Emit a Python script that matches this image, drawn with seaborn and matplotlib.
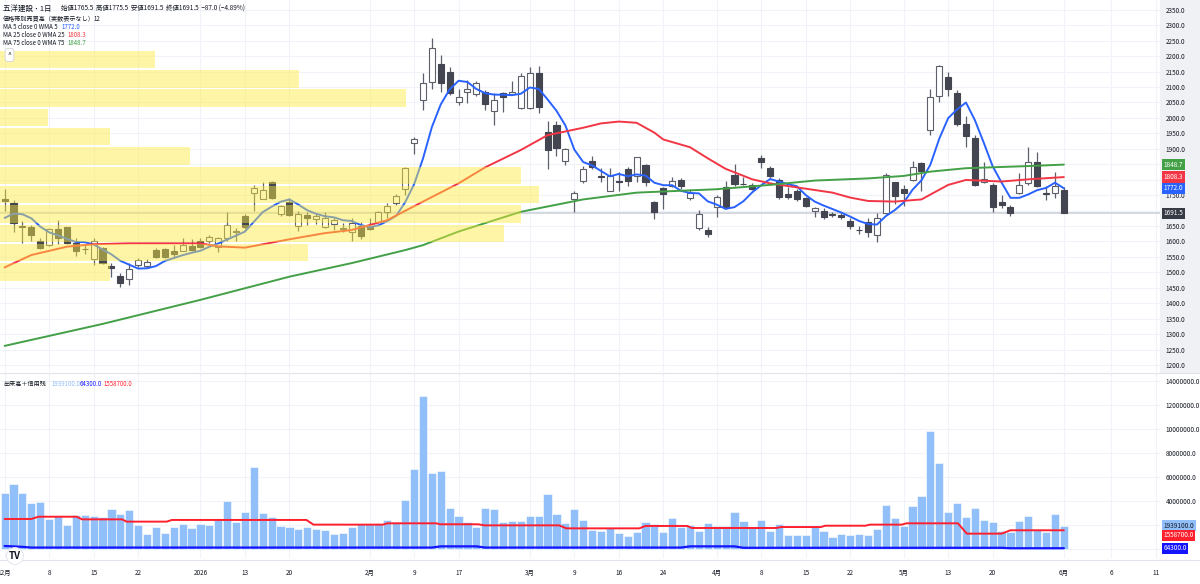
import numpy as np
import pandas as pd
import matplotlib
matplotlib.use("Agg")
import matplotlib.pyplot as plt
import seaborn as sns
from matplotlib.patches import Rectangle
from matplotlib.ticker import FixedLocator, FuncFormatter

# -- trading calendar (TSE closed days removed) --------------------------------
HOLIDAYS = ["2025-12-31", "2026-01-01", "2026-01-02", "2026-01-12", "2026-02-11",
            "2026-02-23", "2026-03-20", "2026-04-29", "2026-05-04", "2026-05-05", "2026-05-06"]
days = [d for d in pd.bdate_range("2025-12-01", "2026-06-01")
        if d.strftime("%Y-%m-%d") not in HOLIDAYS]

# -- OHLC ----------------------------------------------------------------------
opens = [1738, 1725, 1650, 1647, 1600, 1588, 1640, 1646, 1596, 1576,
         1543, 1578, 1522, 1488, 1477, 1524, 1520, 1572, 1575, 1568,
         1570, 1584, 1603, 1603, 1581, 1610, 1630, 1681, 1756, 1738,
         1794, 1688, 1729, 1650, 1685, 1672, 1648, 1655, 1640, 1632,
         1650, 1647, 1664, 1696, 1723, 1769, 1918, 2058, 2117, 2174,
         2150, 2052, 2085, 2077, 2085, 2023, 2080, 2077, 2033, 2033,
         2146, 1955, 1977, 1861, 1736, 1797, 1861, 1812, 1764, 1796,
         1833, 1812, 1847, 1729, 1772, 1780, 1799, 1740, 1643, 1637,
         1711, 1777, 1815, 1786, 1783, 1869, 1837, 1799, 1754, 1764,
         1740, 1697, 1699, 1689, 1685, 1667, 1638, 1664, 1621, 1691,
         1791, 1769, 1799, 1855, 1961, 2071, 2131, 2082, 1981, 1934,
         1794, 1783, 1729, 1713, 1756, 1788, 1858, 1758, 1758, 1765.5]
highs = [1770, 1734, 1665, 1653, 1610, 1642, 1668, 1648, 1610, 1588,
         1610, 1582, 1530, 1497, 1530, 1546, 1542, 1578, 1578, 1588,
         1610, 1608, 1610, 1620, 1614, 1696, 1645, 1690, 1783, 1791,
         1797, 1718, 1740, 1700, 1696, 1693, 1696, 1675, 1660, 1675,
         1662, 1675, 1700, 1723, 1752, 1842, 1939, 2144, 2257, 2203,
         2165, 2092, 2122, 2120, 2090, 2080, 2085, 2120, 2144, 2166,
         2168, 1991, 1991, 1901, 1764, 1845, 1876, 1837, 1837, 1826,
         1842, 1872, 1850, 1732, 1775, 1810, 1805, 1770, 1702, 1648,
         1750, 1797, 1850, 1810, 1790, 1879, 1845, 1804, 1775, 1770,
         1745, 1712, 1707, 1696, 1692, 1675, 1650, 1675, 1691, 1820,
         1794, 1783, 1861, 1858, 2092, 2171, 2150, 2090, 2006, 1944,
         1858, 1789, 1750, 1718, 1821, 1905, 1888, 1780, 1826, 1775.5]
lows = [1700, 1632, 1596, 1603, 1577, 1586, 1592, 1592, 1553, 1560,
        1524, 1528, 1486, 1452, 1460, 1518, 1513, 1545, 1546, 1550,
        1569, 1570, 1580, 1595, 1565, 1600, 1600, 1640, 1697, 1736,
        1736, 1682, 1682, 1635, 1653, 1657, 1643, 1636, 1630, 1603,
        1608, 1637, 1660, 1676, 1718, 1750, 1883, 2025, 2092, 2085,
        2075, 2042, 2047, 2070, 2025, 1977, 2020, 2074, 2030, 2030,
        2015, 1833, 1875, 1847, 1696, 1790, 1836, 1793, 1764, 1764,
        1780, 1791, 1780, 1672, 1704, 1775, 1770, 1735, 1637, 1614,
        1680, 1704, 1779, 1782, 1765, 1837, 1806, 1736, 1737, 1732,
        1712, 1680, 1672, 1680, 1673, 1640, 1624, 1615, 1599, 1690,
        1721, 1715, 1797, 1764, 1944, 2052, 2071, 1973, 1905, 1780,
        1788, 1696, 1707, 1682, 1754, 1783, 1777, 1734, 1740, 1691.5]
closes = [1732, 1661, 1648, 1621, 1578, 1640, 1610, 1594, 1570, 1574,
          1603, 1530, 1514, 1466, 1511, 1540, 1535, 1549, 1549, 1558,
          1587, 1573, 1582, 1614, 1610, 1653, 1635, 1648, 1772, 1767,
          1740, 1715, 1686, 1689, 1675, 1682, 1675, 1669, 1643, 1661,
          1618, 1641, 1696, 1714, 1747, 1837, 1930, 2112, 2225, 2114,
          2080, 2069, 2092, 2112, 2045, 2058, 2067, 2085, 2135, 2146,
          2036, 1896, 1901, 1898, 1756, 1834, 1842, 1810, 1812, 1794,
          1797, 1872, 1791, 1696, 1754, 1797, 1780, 1758, 1689, 1624,
          1745, 1711, 1786, 1785, 1769, 1858, 1812, 1745, 1743, 1736,
          1715, 1707, 1680, 1687, 1678, 1650, 1636, 1632, 1677, 1815,
          1747, 1758, 1840, 1829, 2067, 2167, 2092, 1981, 1941, 1783,
          1801, 1711, 1718, 1693, 1783, 1856, 1780, 1754, 1778.5, 1691.5]

# volume in millions of shares
volume_m = [4.69, 5.39, 4.69, 3.81, 3.89, 2.50, 2.78, 2.00, 2.81, 2.81,
            2.75, 2.69, 3.36, 2.89, 3.22, 2.00, 1.25, 1.86, 1.33, 1.83,
            2.08, 1.72, 2.08, 2.00, 2.47, 4.00, 2.28, 3.08, 6.86, 3.03,
            2.67, 1.92, 1.86, 1.64, 1.83, 1.64, 1.58, 1.22, 1.31, 1.86,
            2.08, 2.08, 2.08, 2.42, 2.25, 4.08, 6.69, 12.75, 6.36, 6.53,
            3.42, 2.78, 2.25, 1.86, 3.42, 3.36, 2.25, 2.36, 2.33, 2.75,
            2.75, 4.61, 2.92, 2.17, 3.36, 2.42, 1.60, 1.53, 1.78, 1.36,
            1.08, 1.39, 2.28, 2.06, 1.39, 2.58, 1.81, 1.97, 1.53, 2.14,
            1.92, 1.92, 3.08, 2.31, 1.81, 2.39, 1.47, 2.08, 1.19, 1.19,
            1.19, 1.86, 1.53, 1.00, 1.28, 1.14, 1.28, 1.14, 1.67, 3.67,
            2.61, 1.89, 3.58, 4.42, 9.86, 7.14, 3.11, 3.81, 2.69, 3.39,
            2.42, 2.25, 1.50, 1.44, 2.33, 2.75, 1.67, 1.39, 2.89, 1.9391]

# MA 5 before enough history is on screen
ma5_head = [1676, 1690, 1688, 1675]

# MA 25 / MA 75 read at sample bars
ma25_idx = [0, 3, 7, 10, 14, 22, 24, 27, 32, 36, 39, 43, 47, 51, 54, 58, 61, 65, 67,
            69, 71, 73, 74, 77, 79, 81, 84, 86, 89, 93, 95, 97, 100, 103, 106, 108,
            112, 115, 119]
ma25_val = [1516, 1556, 1583, 1591, 1594, 1594, 1584, 1580, 1607, 1627, 1637, 1669,
            1729, 1788, 1840, 1896, 1944, 1968, 1982, 1988, 1984, 1952, 1930, 1905,
            1869, 1835, 1801, 1788, 1775, 1758, 1742, 1731, 1729, 1736, 1783, 1799,
            1794, 1801, 1808.3]
ma75_idx = [0, 11, 22, 32, 39, 45, 47, 51, 58, 65, 71, 80, 86, 91, 97, 101, 104,
            108, 115, 119]
ma75_val = [1262, 1333, 1411, 1486, 1530, 1572, 1588, 1632, 1696, 1736, 1758, 1769,
            1783, 1797, 1804, 1812, 1826, 1837, 1844, 1848.7]

# margin balances (millions of shares) at breakpoints
buy_idx = [0, 3, 3.8, 8.1, 8.7, 13.2, 13.7, 18.2, 18.8, 33.9, 34.7, 42.5, 43, 48.5,
           48.9, 53.2, 53.9, 62.3, 63.1, 71.3, 72, 76.7, 77.2, 86.7, 87.2, 91.7, 92.2,
           96.7, 97.2, 100.8, 101.3, 107.1, 108.1, 112, 113, 119]
buy_val = [2.50, 2.50, 2.69, 2.69, 2.47, 2.47, 2.28, 2.28, 2.42, 2.42, 2.03, 2.03,
           2.14, 2.14, 2.06, 2.06, 1.97, 1.97, 1.72, 1.72, 1.92, 1.92, 1.75, 1.75,
           1.83, 1.83, 1.94, 1.94, 2.03, 2.03, 2.14, 2.14, 1.28, 1.28, 1.56, 1.5587]
sell_idx = [0, 2, 3, 48, 49, 53, 54, 76, 77, 82, 83, 112, 113, 119]
sell_val = [0.25, 0.18, 0.12, 0.12, 0.22, 0.22, 0.12, 0.12, 0.22, 0.22, 0.10, 0.10,
            0.0643, 0.0643]

# volume profile rows, bottom -> top (relative volume)
profile_vol = [110, 307, 503, 520, 538, 520, 190, 110, 48, 405, 298, 155]
PROFILE_LOW, PROFILE_STEP = 1470, 62.5

tick_dates = ["2025-12-01", "2025-12-08", "2025-12-15", "2025-12-22", "2026-01-05",
              "2026-01-13", "2026-01-20", "2026-02-02", "2026-02-09", "2026-02-17",
              "2026-03-02", "2026-03-09", "2026-03-16", "2026-03-24", "2026-04-01",
              "2026-04-08", "2026-04-15", "2026-04-22", "2026-05-01", "2026-05-13",
              "2026-05-20", "2026-06-01"]
tick_labels = ["12月", "8", "15", "22", "2026", "13", "20", "2月", "9", "17", "3月",
               "9", "16", "24", "4月", "8", "15", "22", "5月", "13", "20", "6月"]
future_tick_pos = [124.3, 129.4]
future_tick_labels = ["6", "11"]

# -- colours -------------------------------------------------------------------
C_BLUE, C_RED, C_GREEN = "#2962ff", "#f23645", "#43a047"
C_TEXT, C_GRID = "#131722", "#f0f3fa"

sns.set_theme(style="white")
plt.rcParams["font.family"] = ["Noto Sans CJK JP", "DejaVu Sans"]

W, H = 1200, 584
fig = plt.figure(figsize=(12, 5.84), dpi=100)
right = 1160 / W
ax = fig.add_axes([0, 1 - 372 / H, right, 372 / H])
vax = fig.add_axes([0, 1 - 558 / H, right, (558 - 374) / H], sharex=ax)
fig.add_artist(Rectangle((right, 1 - 372 / H), 1 - right, 372 / H,
                         transform=fig.transFigure, color="#f0f1f4", zorder=-1))

o, h, l, c = map(np.asarray, (opens, highs, lows, closes))
x = np.arange(len(c))
up = c >= o

# -- price panel ---------------------------------------------------------------
ax.axhline(closes[-1], color="#d1d4dc", lw=1.3, zorder=1.5)
ax.vlines(x, l, h, color="#5d606b", lw=0.9, zorder=2)
lo = np.minimum(o, c)
hgt = np.maximum(np.abs(c - o), 2.5)
ax.bar(x[up], hgt[up], bottom=lo[up], width=0.68, color="white",
       edgecolor="#5d606b", lw=0.8, zorder=3)
ax.bar(x[~up], hgt[~up], bottom=lo[~up], width=0.68, color="#434651",
       edgecolor="#434651", lw=0.8, zorder=3)

ma5 = pd.Series(c).rolling(5).mean().to_numpy()
ma5[:len(ma5_head)] = ma5_head
sns.lineplot(x=x, y=ma5, ax=ax, color=C_BLUE, lw=1.4, zorder=4)
sns.lineplot(x=ma25_idx, y=ma25_val, ax=ax, color=C_RED, lw=1.4, zorder=4)
sns.lineplot(x=ma75_idx, y=ma75_val, ax=ax, color=C_GREEN, lw=1.4, zorder=4)

xmin, xmax = -0.517, 129.8
pv = np.asarray(profile_vol, float)
widths = pv / pv.max() * 0.465 * (xmax - xmin)
centers = PROFILE_LOW + PROFILE_STEP * (np.arange(len(pv)) + 0.5)
ax.barh(centers, widths, left=xmin, height=PROFILE_STEP * 0.9,
        color="#ffeb3b", alpha=0.45, lw=0, zorder=5)

ax.set_xlim(xmin, xmax)
ax.set_ylim(1177.5, 2381.4)
hidden_price = {1700, 1800, 1850}
ax.yaxis.set_major_locator(FixedLocator(np.arange(1200, 2351, 50)))
ax.yaxis.set_major_formatter(FuncFormatter(
    lambda v, _: "" if round(v) in hidden_price else f"{v:.1f}"))
ax.yaxis.tick_right()
ax.tick_params(axis="y", length=0, pad=4, labelsize=4.6, labelcolor=C_TEXT)
ax.tick_params(axis="x", length=0, labelbottom=False)

tick_pos = [days.index(pd.Timestamp(d)) for d in tick_dates] + future_tick_pos
all_tick_labels = tick_labels + future_tick_labels
vax.xaxis.set_major_locator(FixedLocator(tick_pos))
vax.xaxis.set_major_formatter(FuncFormatter(
    lambda v, i: all_tick_labels[i] if i is not None and i < len(tick_pos) else ""))

for a in (ax, vax):
    a.grid(True, color=C_GRID, lw=0.8)
    a.set_axisbelow(True)
    for s in a.spines.values():
        s.set_visible(False)
    a.set_xlabel("")
    a.set_ylabel("")

# right-hand value tags
def tag(axis, y, text, fc, tc="white", dy=0):
    axis.annotate(text, xy=(1, y), xycoords=axis.get_yaxis_transform(),
                  xytext=(2.5, dy), textcoords="offset points", ha="left", va="center",
                  fontsize=4.6, color=tc, annotation_clip=False,
                  bbox=dict(boxstyle="square,pad=0.25", fc=fc, ec="none"))

tag(ax, ma75_val[-1], f"{ma75_val[-1]:.1f}", C_GREEN)
tag(ax, ma25_val[-1], f"{ma25_val[-1]:.1f}", C_RED)
tag(ax, ma5[-1], f"{ma5[-1]:.1f}", C_BLUE)
tag(ax, closes[-1], f"{closes[-1]:.1f}", "#363a45")

# -- volume panel --------------------------------------------------------------
vol = np.asarray(volume_m) * 1e6
vax.bar(x, vol, width=0.92, color="#90bff9", edgecolor="white", lw=0.4, zorder=2)
sns.lineplot(x=buy_idx, y=np.asarray(buy_val) * 1e6, ax=vax, color="#ff1f2d", lw=1.4, zorder=3)
sns.lineplot(x=sell_idx, y=np.asarray(sell_val) * 1e6, ax=vax, color="#1414ff", lw=1.6, zorder=3)
vax.set_ylim(-0.75e6, 14.58e6)
vax.yaxis.set_major_locator(FixedLocator(np.arange(0, 14.1e6, 2e6)))
vax.yaxis.set_major_formatter(FuncFormatter(lambda v, _: "" if v < 3e6 else f"{v:.1f}"))
vax.yaxis.tick_right()
vax.tick_params(axis="y", length=0, pad=4, labelsize=4.6, labelcolor=C_TEXT)
vax.tick_params(axis="x", length=0, pad=8, labelsize=4.6, labelcolor=C_TEXT)

tag(vax, vol[-1], f"{vol[-1]:.1f}", "#90bff9", tc=C_TEXT)
tag(vax, buy_val[-1] * 1e6, f"{buy_val[-1] * 1e6:.1f}", "#ff1f2d", dy=-3.5)
tag(vax, sell_val[-1] * 1e6, f"{sell_val[-1] * 1e6:.1f}", "#1414ff")

# panel separators
for yy in (373, 560):
    fig.add_artist(plt.Line2D([0, 1], [1 - yy / H] * 2, transform=fig.transFigure,
                              color="#e0e3eb", lw=0.8))

# -- legends -------------------------------------------------------------------
def ftext(px, py, s, size=4.6, color=C_TEXT, **kw):
    fig.text(px / W, 1 - py / H, s, fontsize=size, color=color, va="center", ha="left", **kw)

ftext(3, 9, "五洋建設 ˙ 1日", size=5.4)
ftext(61, 9, "始値1765.5  高値1775.5  安値1691.5  終値1691.5  −87.0 (−4.89%)", size=4.6)
ftext(3, 19, "価格帯別売買高（実数表示なし）", size=4.4)
ftext(93, 19, "12", size=4.4)
ftext(3, 27, "MA 5 close 0 WMA 5", size=4.4)
ftext(62, 27, f"{ma5[-1]:.1f}", size=4.4, color=C_BLUE)
ftext(3, 35, "MA 25 close 0 WMA 25", size=4.4)
ftext(67, 35, f"{ma25_val[-1]:.1f}", size=4.4, color=C_RED)
ftext(3, 43, "MA 75 close 0 WMA 75", size=4.4)
ftext(67, 43, f"{ma75_val[-1]:.1f}", size=4.4, color=C_GREEN)
fig.text(9.5 / W, 1 - 55 / H, "^", fontsize=5, ha="center", va="center", color=C_TEXT,
         bbox=dict(boxstyle="round,pad=0.35", fc="white", ec="#d1d4dc", lw=0.6))

ftext(3, 384, "出来高＋信用残", size=4.4)
ftext(51, 384, f"{vol[-1]:.1f}", size=4.4, color="#90bff9")
ftext(80, 384, f"{sell_val[-1] * 1e6:.1f}", size=4.4, color="#1414ff")
ftext(104, 384, f"{buy_val[-1] * 1e6:.1f}", size=4.4, color="#ff1f2d")
fig.text(15 / W, 1 - 556 / H, "TV", fontsize=7, fontweight="bold", ha="center",
         va="center", color=C_TEXT,
         bbox=dict(boxstyle="circle,pad=0.25", fc="white", ec="#e0e3eb", lw=0.6))

fig.savefig("out.png", dpi=100)
